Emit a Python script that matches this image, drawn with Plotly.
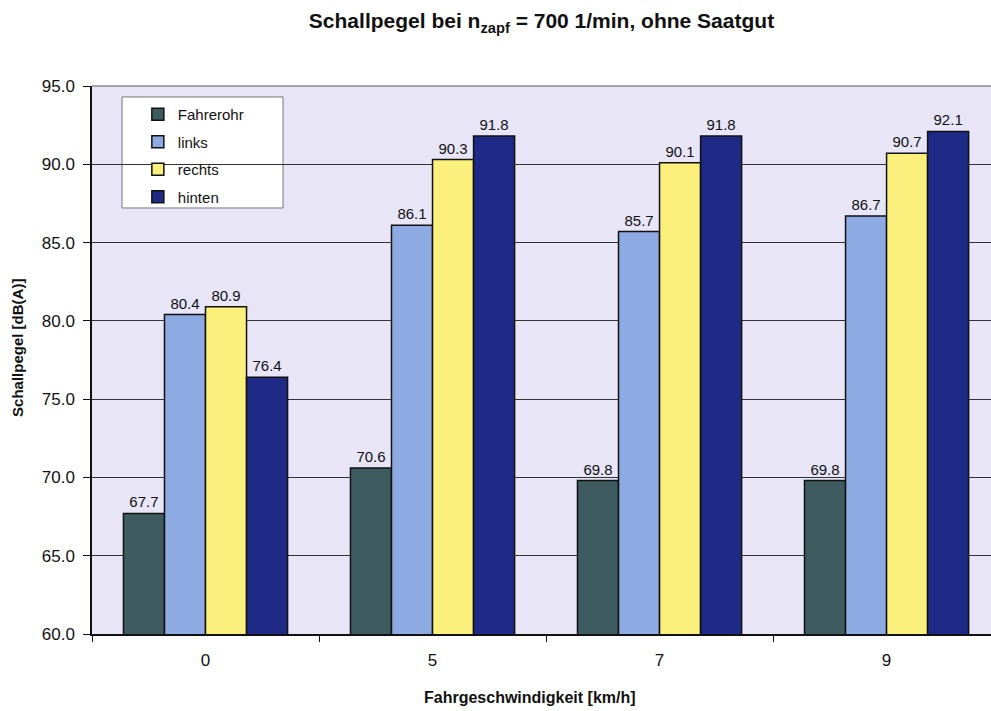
import plotly.graph_objects as go

# Driving speeds (km/h) and measured sound levels in dB(A)
speeds = ["0", "5", "7", "9"]
fahrerohr = [67.7, 70.6, 69.8, 69.8]
links = [80.4, 86.1, 85.7, 86.7]
rechts = [80.9, 90.3, 90.1, 90.7]
hinten = [76.4, 91.8, 91.8, 92.1]

series = [
    ("Fahrerohr", fahrerohr, "#3e5c60"),
    ("links", links, "#8eaae2"),
    ("rechts", rechts, "#fbf07c"),
    ("hinten", hinten, "#1e2a86"),
]

FONT = "Liberation Sans, Arial, Helvetica, sans-serif"

fig = go.Figure()
for name, vals, color in series:
    fig.add_trace(go.Bar(
        name=name,
        legendgroup=name,
        x=speeds,
        y=vals,
        marker=dict(color=color, line=dict(color="#111111", width=1.5)),
        text=[f"{v:.1f}" for v in vals],
        textposition="outside",
        textfont=dict(family=FONT, size=15, color="#111111"),
        cliponaxis=False,
    ))

fig.update_layout(
    width=991,
    height=711,
    barmode="group",
    bargap=0.277,
    bargroupgap=0,
    paper_bgcolor="white",
    plot_bgcolor="#e7e5f6",
    margin=dict(l=92, r=0, t=86, b=77),
    font=dict(family=FONT, color="#111111"),
    title=dict(
        text="<b>Schallpegel bei n<sub>zapf</sub> = 700 1/min, ohne Saatgut</b>",
        x=0.5, xref="paper", xanchor="center",
        y=1 - 21 / 711, yref="container", yanchor="middle",
        font=dict(size=21),
    ),
    legend=dict(
        x=0.051, y=0.978, xanchor="left", yanchor="top",
        bgcolor="rgba(0,0,0,0)", borderwidth=0,
        font=dict(size=15),
        itemwidth=30,
        tracegroupgap=5,
    ),
    showlegend=True,
)

fig.update_xaxes(
    type="category",
    range=[-0.5, 3.46],
    tickson="boundaries",
    ticks="outside", ticklen=6, tickcolor="#111111",
    ticklabelstandoff=10,
    showline=True, linecolor="#111111", linewidth=1.5,
    showgrid=False,
    tickfont=dict(size=17),
)

fig.update_yaxes(
    range=[60, 95],
    dtick=5,
    tickformat=".1f",
    ticks="outside", ticklen=7, tickcolor="#111111",
    ticklabelstandoff=5,
    showline=True, linecolor="#111111", linewidth=1.5,
    showgrid=True, gridcolor="#333333", gridwidth=1,
    tickfont=dict(size=17),
)

# Axis titles
fig.add_annotation(
    text="<b>Fahrgeschwindigkeit [km/h]</b>",
    xref="paper", yref="paper", x=0.487, y=-0.115,
    xanchor="center", yanchor="middle", showarrow=False,
    font=dict(size=16),
)
fig.add_annotation(
    text="<b>Schallpegel [dB(A)]</b>",
    xref="paper", yref="paper", x=-74 / 899, y=0.522,
    xanchor="center", yanchor="middle", showarrow=False, textangle=-90,
    font=dict(size=15),
)

# Legend frame, covering the gridlines behind it
fig.add_shape(type="rect", xref="paper", yref="paper",
              x0=0.0334, x1=0.2125, y0=0.7774, y1=0.98,
              fillcolor="white", line=dict(color="#777777", width=1),
              layer="between")

# Top border of the plot area
fig.add_shape(type="line", xref="paper", yref="paper", x0=0, x1=1, y0=1, y1=1,
              line=dict(color="#888888", width=1.5))

fig.write_html("out.html")
